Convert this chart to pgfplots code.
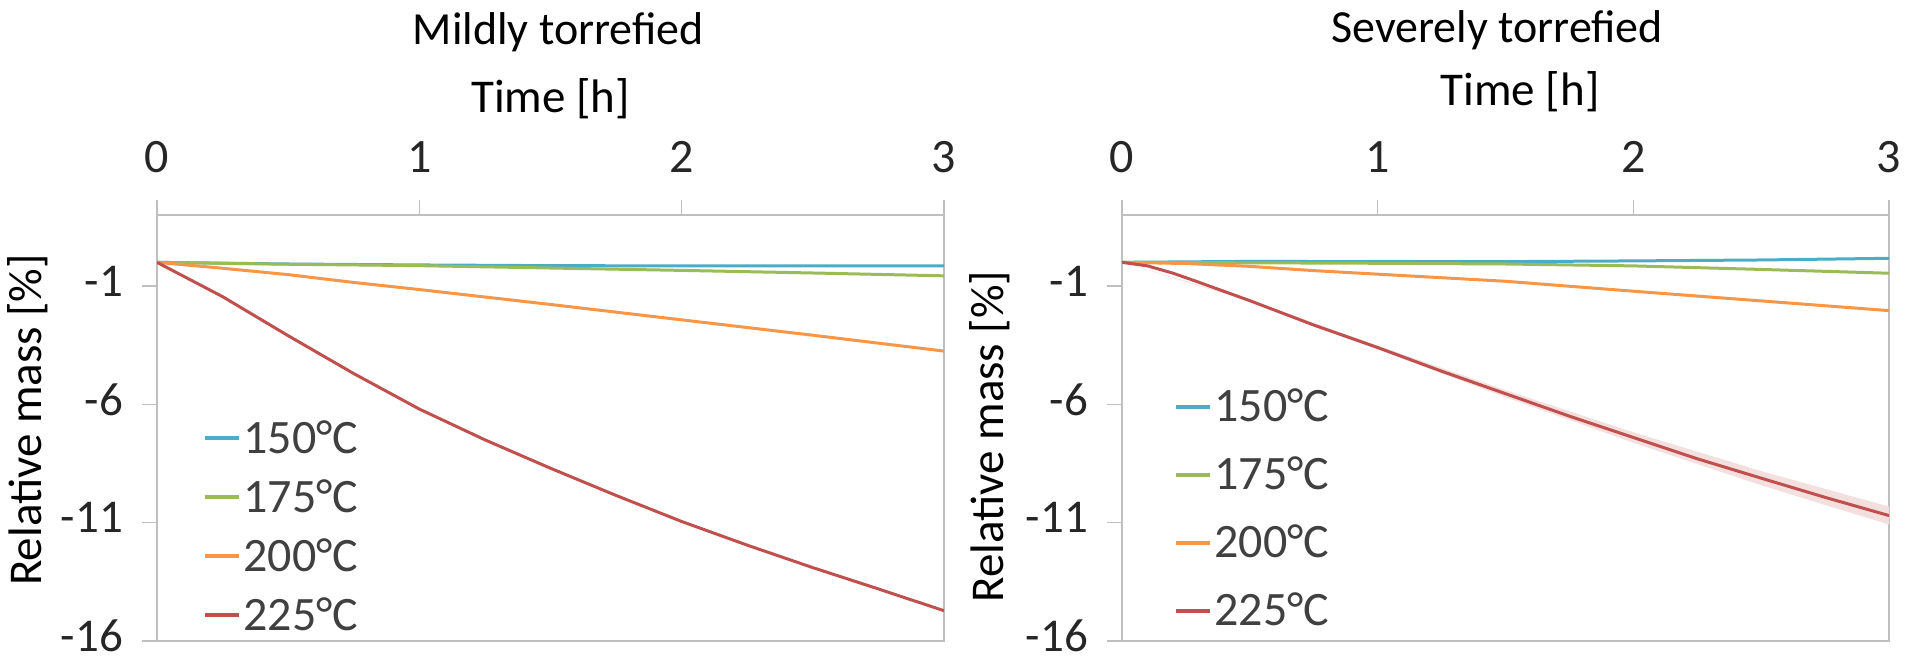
\documentclass[border=0pt]{standalone}
\usepackage{fontspec}
\setmainfont{Carlito}
\usepackage{pgfplots}
\pgfplotsset{compat=1.18}
\definecolor{c150}{HTML}{4BACC6}
\definecolor{c175}{HTML}{9BBB59}
\definecolor{c200}{HTML}{F79646}
\definecolor{c225}{HTML}{C0504D}
\definecolor{axgray}{HTML}{BFBFBF}
\definecolor{txt}{HTML}{404040}
\pgfplotsset{
  tpanel/.style={
    scale only axis,
    xmin=0, xmax=3, ymin=-16, ymax=2,
    xtick={0,1,2,3}, xticklabels={0,1,2,3},
    ytick={-16,-11,-6,-1}, yticklabels={-16,-11,-6,-1},
    xtick pos=upper, xticklabel pos=upper,
    ytick pos=lower, yticklabel pos=lower,
    tick align=outside,
    major tick length=7.5pt,
    tick style={axgray, line width=0.8pt},
    axis line style={axgray, line width=1.3pt},
    ticklabel style={font=\fontsize{24}{28}\selectfont, text=black!85},
    xticklabel style={anchor=base, yshift=14pt},
    yticklabel style={anchor=east, xshift=-6pt, yshift=2.5pt, font=\fontsize{23.5}{28}\selectfont},
    label style={font=\fontsize{23.5}{28}\selectfont, text=black},
    every axis title shift=0pt,
    title style={font=\fontsize{23}{28}\selectfont, text=black, anchor=base},
    ylabel={Relative mass [\%]},
    xlabel={Time [h]},
    legend cell align=left,
    legend style={draw=none, fill=none, inner sep=0pt, column sep=1pt,
      font=\fontsize{24}{28}\selectfont, text=txt,
      nodes={inner sep=0pt, text height=15pt, text depth=0pt}},
    legend image code/.code={\draw[#1, line width=2pt] (0pt,0pt) -- (17pt,0pt);},
    every axis plot/.append style={line width=1.5pt},
  }
}
\begin{document}
\begin{tikzpicture}
\useasboundingbox (0,0) rectangle (952.5pt,330pt);
% Left panel
\begin{axis}[tpanel,
  at={(78.5pt,9.5pt)}, anchor=south west,
  width=393.5pt, height=213pt,
  title={Mildly torrefied},
  title style={at={(rel axis cs:0.51,1.401)}},
  xlabel style={at={(rel axis cs:0.50,1.2535)}, anchor=base, yshift=-2.5pt},
  ylabel style={at={(rel axis cs:-0.164,0.519)}, anchor=center},
  legend style={at={(rel axis cs:0.0584,0.5117)}, anchor=north west, row sep=14.5pt},
]
\addplot[c150] coordinates {(0,0)(0.5,-0.07)(1,-0.11)(1.5,-0.14)(2,-0.15)(2.5,-0.15)(3,-0.15)};
\addlegendentry{150°C}
\addplot[c175] coordinates {(0,0)(0.5,-0.08)(1,-0.14)(1.5,-0.24)(2,-0.34)(2.5,-0.45)(3,-0.57)};
\addlegendentry{175°C}
\addplot[c200] coordinates {(0,0)(0.25,-0.25)(0.5,-0.52)(0.75,-0.85)(1,-1.15)(1.5,-1.78)(2,-2.43)(2.5,-3.08)(3,-3.75)};
\addlegendentry{200°C}
\addplot[c225] coordinates {(0,0)(0.25,-1.45)(0.5,-3.1)(0.75,-4.7)(1,-6.2)(1.25,-7.5)(1.5,-8.7)(1.75,-9.85)(2,-10.95)(2.25,-11.95)(2.5,-12.9)(2.75,-13.8)(3,-14.72)};
\addlegendentry{225°C}
\end{axis}
% Right panel
\begin{axis}[tpanel,
  at={(561pt,9.5pt)}, anchor=south west,
  width=383.5pt, height=213pt,
  title={Severely torrefied},
  title style={at={(rel axis cs:0.489,1.405)}},
  xlabel style={at={(rel axis cs:0.519,1.269)}, anchor=base, yshift=-2.5pt},
  ylabel style={at={(rel axis cs:-0.172,0.48)}, anchor=center},
  legend style={at={(rel axis cs:0.0678,0.5855)}, anchor=north west, row sep=19pt},
]
\addplot[fill=c225!18, draw=none, forget plot] coordinates {(0,0)(0.5,-1.59)(1,-3.52)(1.5,-5.40)(2,-7.18)(2.5,-8.82)(3,-10.32)(3,-11.08)(2.5,-9.42)(2,-7.62)(1.5,-5.70)(1,-3.68)(0.5,-1.65)(0,0)};
\addplot[c150] coordinates {(0,0)(0.5,0.04)(1,0.03)(1.5,0.03)(2,0.06)(2.5,0.1)(3,0.17)};
\addlegendentry{150°C}
\addplot[c175] coordinates {(0,0)(0.5,-0.02)(1,-0.04)(1.5,-0.07)(2,-0.15)(2.5,-0.3)(3,-0.46)};
\addlegendentry{175°C}
\addplot[c200] coordinates {(0,0)(0.25,-0.05)(0.5,-0.17)(0.75,-0.35)(1,-0.5)(1.5,-0.8)(2,-1.22)(2.5,-1.63)(3,-2.04)};
\addlegendentry{200°C}
\addplot[c225] coordinates {(0,0)(0.1,-0.15)(0.2,-0.46)(0.3,-0.84)(0.5,-1.62)(0.75,-2.65)(1,-3.6)(1.25,-4.6)(1.5,-5.55)(1.75,-6.5)(2,-7.4)(2.25,-8.3)(2.5,-9.12)(2.75,-9.93)(3,-10.7)};
\addlegendentry{225°C}
\end{axis}
\end{tikzpicture}
\end{document}
